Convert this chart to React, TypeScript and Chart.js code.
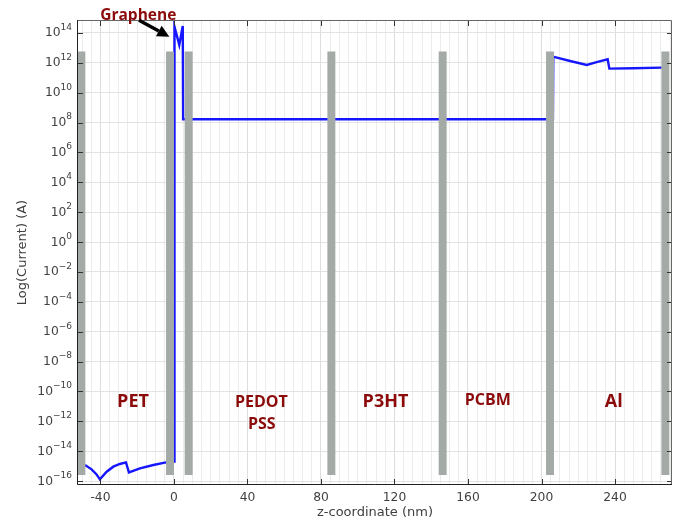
import React, { useEffect, useRef } from 'react';
import { Chart, registerables } from 'chart.js';

Chart.register(...registerables);

// Sampled current curve: z-coordinate (nm) and log10(current / A)
const zCoordinate = [
  -48.4, -44.8, -42.1, -40.3, -36.6, -33.0, -29.4, -26.1, -24.5, -18.5, -11.2, -4.3, 0.2,
  0.3, 2.9, 4.8, 5.0, 100, 206.2,
  206.4, 215, 224.6, 230, 236.0, 236.9, 250, 265.4,
];
const logCurrent = [
  -14.93, -15.22, -15.56, -15.89, -15.38, -15.04, -14.86, -14.75, -15.42, -15.15, -14.93, -14.75, -14.7,
  14.42, 13.2, 14.47, 8.22, 8.22, 8.22,
  12.41, 12.14, 11.86, 12.05, 12.24, 11.61, 11.64, 11.68,
];

// Layer interfaces (grey bars), z in nm, extent in log10 units
const interfaceZ = [-50.37, -2.14, 8.01, 85.66, 146.22, 204.63, 267.4];
const interfaceBottom = [-15.58, -15.58, -15.58, -15.58, -15.58, -15.58, -15.58];
const interfaceTop = [12.73, 12.73, 12.73, 12.73, 12.73, 12.73, 12.73];

// Axis ticks
const xTickLabels = [-40, 0, 40, 80, 120, 160, 200, 240];
const xGridStep = 5;
const xRange = [-52.2, 271];
const yTickExponents = [-16, -14, -12, -10, -8, -6, -4, -2, 0, 2, 4, 6, 8, 10, 12, 14];
const yRange = [-16.2, 14.8];

// Text annotations
const layerNames = ['PET', 'PEDOT', 'PSS', 'P3HT', 'PCBM', 'Al'];
const grapheneLabel = 'Graphene';

const LABEL_COLOR = '#8b0a0a';
const TICK_COLOR = '#404040';

// positions of annotations (data coordinates), kept separate from the data
const layerLabelPlacement = [
  { z: -22.27, y: -11.04, size: 18 },
  { z: 47.54, y: -11.02, size: 16 },
  { z: 47.76, y: -12.54, size: 16 },
  { z: 115.12, y: -11.02, size: 18 },
  { z: 170.79, y: -10.91, size: 16 },
  { z: 239.29, y: -11.02, size: 18 },
];
const grapheneLabelPlacement = { z: -19.39, y: 14.87, size: 15.5 };
const arrowFrom = { z: -19.0, y: 14.85 };
const arrowTo = { z: -2.5, y: 13.75 };

const overlayPlugin = {
  id: 'overlay',
  afterDraw(chart: any) {
    const { ctx, chartArea: a, scales } = chart;
    const xs = scales.x;
    const ys = scales.y;
    ctx.save();
    // inner tick marks
    ctx.strokeStyle = '#333';
    ctx.lineWidth = 1;
    ctx.beginPath();
    for (const v of xTickLabels) {
      const px = Math.round(xs.getPixelForValue(v)) + 0.5;
      ctx.moveTo(px, a.bottom);
      ctx.lineTo(px, a.bottom - 5);
      ctx.moveTo(px, a.top);
      ctx.lineTo(px, a.top + 5);
    }
    for (const e of yTickExponents) {
      const py = Math.round(ys.getPixelForValue(e)) + 0.5;
      ctx.moveTo(a.left, py);
      ctx.lineTo(a.left + 5, py);
      ctx.moveTo(a.right, py);
      ctx.lineTo(a.right - 5, py);
    }
    ctx.stroke();
    // frame
    ctx.strokeStyle = '#666';
    ctx.beginPath();
    ctx.moveTo(a.left, a.top - 0.5);
    ctx.lineTo(a.right - 0.5, a.top - 0.5);
    ctx.lineTo(a.right - 0.5, a.bottom);
    ctx.stroke();
    ctx.strokeStyle = '#222';
    ctx.beginPath();
    ctx.moveTo(a.left - 0.5, a.top - 1);
    ctx.lineTo(a.left - 0.5, a.bottom + 0.5);
    ctx.lineTo(a.right, a.bottom + 0.5);
    ctx.stroke();

    // y tick labels: 10 with superscript exponent
    ctx.fillStyle = TICK_COLOR;
    ctx.textAlign = 'right';
    ctx.textBaseline = 'middle';
    const xEnd = a.left - 6;
    for (const e of yTickExponents) {
      const py = ys.getPixelForValue(e);
      const expText = String(e).replace('-', '\u2212');
      ctx.font = '9px "DejaVu Sans"';
      const w = ctx.measureText(expText).width;
      ctx.fillText(expText, xEnd, py - 5.5);
      ctx.font = '12.3px "DejaVu Sans"';
      ctx.fillText('10', xEnd - w, py + 0.3);
    }

    // layer labels
    ctx.fillStyle = LABEL_COLOR;
    ctx.textAlign = 'center';
    ctx.textBaseline = 'alphabetic';
    layerNames.forEach((name, i) => {
      const p = layerLabelPlacement[i];
      ctx.font = `bold ${p.size}px "Open Sans"`;
      ctx.fillText(name, xs.getPixelForValue(p.z), ys.getPixelForValue(p.y));
    });
    ctx.font = `bold ${grapheneLabelPlacement.size}px "Open Sans"`;
    ctx.fillText(grapheneLabel, xs.getPixelForValue(grapheneLabelPlacement.z), ys.getPixelForValue(grapheneLabelPlacement.y));

    // arrow
    const x1 = xs.getPixelForValue(arrowFrom.z);
    const y1 = ys.getPixelForValue(arrowFrom.y);
    const x2 = xs.getPixelForValue(arrowTo.z);
    const y2 = ys.getPixelForValue(arrowTo.y);
    const ang = Math.atan2(y2 - y1, x2 - x1);
    const headLen = 12;
    const headW = 6;
    const bx = x2 - headLen * Math.cos(ang);
    const by = y2 - headLen * Math.sin(ang);
    ctx.strokeStyle = '#000';
    ctx.fillStyle = '#000';
    ctx.lineWidth = 3.5;
    ctx.lineCap = 'butt';
    ctx.beginPath();
    ctx.moveTo(x1, y1);
    ctx.lineTo(bx, by);
    ctx.stroke();
    ctx.beginPath();
    ctx.moveTo(x2, y2);
    ctx.lineTo(bx + headW * Math.sin(ang), by - headW * Math.cos(ang));
    ctx.lineTo(bx - headW * Math.sin(ang), by + headW * Math.cos(ang));
    ctx.closePath();
    ctx.fill();
    ctx.restore();
  },
};

export default function App() {
  const ref = useRef<HTMLCanvasElement>(null);
  useEffect(() => {
    document.body.style.margin = '0';
    document.body.style.overflow = 'hidden';
    const curve = zCoordinate.map((z, i) => ({ x: z, y: logCurrent[i] }));
    const bars = interfaceZ.map((z, i) => ({ x: z, y: [interfaceBottom[i], interfaceTop[i]] }));
    const gridValues: number[] = [];
    for (let v = Math.ceil(xRange[0] / xGridStep) * xGridStep; v <= xRange[1]; v += xGridStep) gridValues.push(v);

    const chart = new Chart(ref.current as HTMLCanvasElement, {
      type: 'bar',
      data: {
        datasets: [
          {
            type: 'bar',
            data: bars as any,
            backgroundColor: '#a4aba6',
            borderWidth: 0,
            barThickness: 7.3,
            order: 0,
          } as any,
          {
            type: 'line',
            data: curve,
            borderColor: 'rgb(22,22,255)',
            borderWidth: 2.4,
            pointRadius: 0,
            tension: 0,
            fill: false,
            order: 1,
          } as any,
        ],
      },
      options: {
        animation: false,
        responsive: false,
        layout: { padding: { top: 21, right: 6, left: 0, bottom: 0 } },
        plugins: { legend: { display: false }, tooltip: { enabled: false } },
        scales: {
          x: {
            type: 'linear',
            min: xRange[0],
            max: xRange[1],
            offset: false,
            afterBuildTicks: (s: any) => {
              s.ticks = gridValues.map((v) => ({ value: v }));
            },
            afterFit: (s: any) => {
              s.height = 37;
            },
            grid: {
              offset: false,
              drawTicks: false,
              color: (c: any) => (c.tick && xTickLabels.includes(c.tick.value) ? '#dedede' : '#ececec'),
            },
            border: { display: false },
            ticks: {
              autoSkip: false,
              maxRotation: 0,
              padding: 6,
              color: TICK_COLOR,
              font: { family: 'DejaVu Sans', size: 12.3 },
              callback: (v: any) => (xTickLabels.includes(Number(v)) ? String(v) : ''),
            },
            title: {
              display: true,
              text: 'z-coordinate (nm)',
              color: TICK_COLOR,
              font: { family: 'DejaVu Sans', size: 13 },
              padding: { top: 0, bottom: 1 },
            },
          },
          y: {
            type: 'linear',
            min: yRange[0],
            max: yRange[1],
            afterBuildTicks: (s: any) => {
              s.ticks = yTickExponents.map((v) => ({ value: v }));
            },
            afterFit: (s: any) => {
              s.width = 78;
            },
            grid: { drawTicks: false, color: '#e2e2e2' },
            border: { display: false },
            ticks: { display: false },
            title: {
              display: true,
              text: 'Log(Current) (A)',
              color: TICK_COLOR,
              font: { family: 'DejaVu Sans', size: 13 },
              padding: { top: 15, bottom: 0 },
            },
          },
        },
      },
      plugins: [overlayPlugin],
    } as any);
    return () => chart.destroy();
  }, []);
  return (
    <div style={{ width: 678, height: 521 }}>
      <canvas ref={ref} width={678} height={521} style={{ display: 'block' }} />
    </div>
  );
}
